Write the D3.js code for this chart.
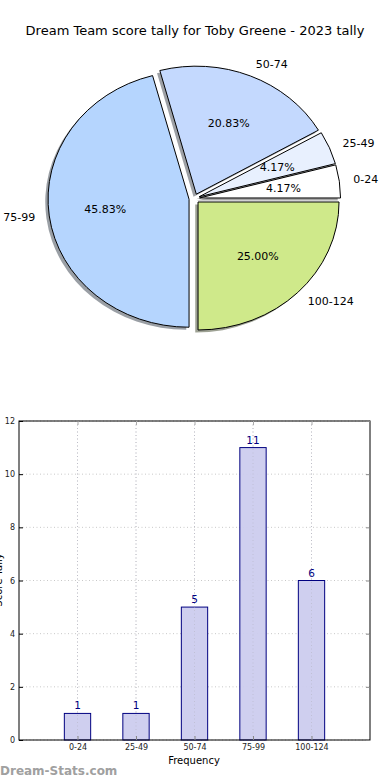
<!DOCTYPE html>
<html><head><meta charset="utf-8">
<script src="https://cdn.jsdelivr.net/npm/d3@7"></script>
<style>body{margin:0;background:#fff;}svg{display:block;font-family:"DejaVu Sans",sans-serif;}</style>
</head><body>
<svg id="c" width="390" height="780"></svg>
<script>
const categories = ["0-24","25-49","50-74","75-99","100-124"];
const counts = [1,1,5,11,6];
const pieColors = ["#ffffff","#e8f0fe","#c4d9fe","#b5d5fe","#cfe98a"];
const yTicks = [0,2,4,6,8,10,12];
const title = "Dream Team score tally for Toby Greene - 2023 tally";

const svg = d3.select("#c");

svg.append("text").attr("x",195).attr("y",35).attr("text-anchor","middle")
  .attr("font-size",13).attr("fill","#000").text(title);

// ---- Pie ----
const cx = 194.3, cy = 198.6, rx = 141, ry = 128, explode = 0.0375;
const total = d3.sum(counts);
const pie = d3.pie().sort(null).startAngle(Math.PI/2).endAngle(Math.PI/2 - 2*Math.PI);
const arcs = pie(counts);
const arcGen = d3.arc().innerRadius(0).outerRadius(rx);
const pg = svg.append("g");
function geom(a){
  const mid = (a.startAngle + a.endAngle)/2;
  const th = Math.PI/2 - mid;
  return {th, ox: explode*rx*Math.cos(th), oy: -explode*ry*Math.sin(th)};
}
arcs.forEach((a,i)=>{
  const g = geom(a);
  const c = d3.rgb(pieColors[i]);
  pg.append("path")
    .attr("transform",`translate(${cx+g.ox-2.8},${cy+g.oy+2.6}) scale(1,${ry/rx})`)
    .attr("d",arcGen(a))
    .attr("fill",d3.rgb(c.r*0.3,c.g*0.3,c.b*0.3)).attr("fill-opacity",0.5).attr("stroke","none");
});
arcs.forEach((a,i)=>{
  const g = geom(a);
  pg.append("path")
    .attr("transform",`translate(${cx+g.ox},${cy+g.oy}) scale(1,${ry/rx})`)
    .attr("d",arcGen(a))
    .attr("fill",pieColors[i]).attr("stroke","#000").attr("stroke-width",1)
    .attr("vector-effect","non-scaling-stroke").attr("stroke-linejoin","round");
  const lx = cx+g.ox+1.1*rx*Math.cos(g.th), ly = cy+g.oy-1.1*ry*Math.sin(g.th);
  pg.append("text").attr("x",lx).attr("y",ly).attr("dy","0.35em")
    .attr("text-anchor", Math.cos(g.th)>0 ? "start":"end")
    .attr("font-size",11).text(categories[i]);
  const px = cx+g.ox+0.6*rx*Math.cos(g.th), py = cy+g.oy-0.6*ry*Math.sin(g.th);
  pg.append("text").attr("x",px).attr("y",py).attr("dy","0.35em")
    .attr("text-anchor","middle").attr("font-size",11)
    .text((counts[i]/total*100).toFixed(2)+"%");
});

// ---- Bar chart ----
const L=19, R=370, T=421, B=740;
const x = d3.scaleLinear().domain([-1,5]).range([L,R]);
const y = d3.scaleLinear().domain([0,12]).range([B,T]);
const bg = svg.append("g");
bg.selectAll(".gy").data(yTicks).join("line")
  .attr("x1",L).attr("x2",R).attr("y1",d=>y(d)).attr("y2",d=>y(d))
  .attr("stroke","#c8c8c8").attr("stroke-dasharray","1,2.5");
bg.selectAll(".gx").data(categories).join("line")
  .attr("x1",(d,i)=>x(i)).attr("x2",(d,i)=>x(i)).attr("y1",T).attr("y2",B)
  .attr("stroke","#c8c8c8").attr("stroke-dasharray","1,2.5");
const bw = x(0.45)-x(0);
bg.selectAll(".bar").data(counts).join("rect")
  .attr("x",(d,i)=>x(i)-bw/2).attr("y",d=>y(d)).attr("width",bw).attr("height",d=>B-y(d))
  .attr("fill","#ccccee").attr("fill-opacity",0.95).attr("stroke","#000080").attr("stroke-width",1);
bg.selectAll(".gx2").data(categories).join("line")
  .attr("x1",(d,i)=>x(i)).attr("x2",(d,i)=>x(i)).attr("y1",T).attr("y2",B)
  .attr("stroke","#b8b8c8").attr("stroke-opacity",0.6).attr("stroke-dasharray","1,2.5");
bg.selectAll(".vl").data(counts).join("text")
  .attr("x",(d,i)=>x(i)).attr("y",d=>y(d)-4).attr("text-anchor","middle")
  .attr("font-size",10.5).attr("fill","#000080").text(d=>d);
bg.append("rect").attr("x",L).attr("y",T).attr("width",R-L).attr("height",B-T)
  .attr("fill","none").attr("stroke","#000").attr("stroke-width",1);
const yAxisL = d3.axisLeft(y).tickValues(yTicks).tickSize(-4).tickPadding(4);
const ga = bg.append("g").attr("transform",`translate(${L},0)`).call(yAxisL);
ga.select(".domain").remove();
ga.selectAll("text").attr("font-size",8).attr("font-family","DejaVu Sans").attr("fill","#222");
ga.selectAll("line").attr("stroke","#000");
const gr = bg.append("g").attr("transform",`translate(${R},0)`).call(d3.axisRight(y).tickValues(yTicks).tickSize(-4).tickFormat(""));
gr.select(".domain").remove();
gr.selectAll("line").attr("stroke","#888");
const xAxis = d3.axisBottom(x).tickValues(d3.range(categories.length)).tickFormat(i=>categories[i]).tickSize(-4).tickPadding(4);
const gx = bg.append("g").attr("transform",`translate(0,${B})`).call(xAxis);
gx.select(".domain").remove();
gx.selectAll("text").attr("font-size",8).attr("font-family","DejaVu Sans").attr("fill","#222");
gx.selectAll("line").attr("stroke","#888");
const gt = bg.append("g").attr("transform",`translate(0,${T})`).call(d3.axisTop(x).tickValues(d3.range(categories.length)).tickSize(-4).tickFormat(""));
gt.select(".domain").remove();
gt.selectAll("line").attr("stroke","#aaa");
svg.append("text").attr("x",194).attr("y",764).attr("text-anchor","middle")
  .attr("font-size",10).text("Frequency");
svg.append("text").attr("transform","translate(2,580) rotate(-90)").attr("text-anchor","middle")
  .attr("font-size",10).text("Score Tally");
svg.append("text").attr("x",0).attr("y",775).attr("font-size",12).attr("font-weight","600")
  .attr("fill","#a0a0a0").text("Dream-Stats.com");
</script>
</body></html>
